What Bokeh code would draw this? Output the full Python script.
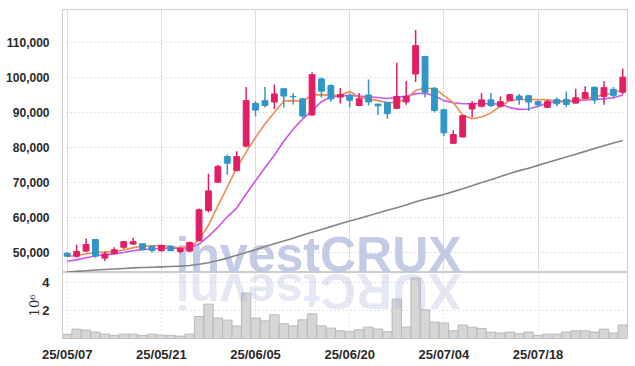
import numpy as np
from bokeh.plotting import figure
from bokeh.models import ColumnDataSource, FixedTicker, Label, Range1d, Grid, NumeralTickFormatter
from bokeh.layouts import column
from bokeh.embed import file_html
from bokeh.resources import INLINE

# ---------------- data ----------------
dates = ["25/05/07", "25/05/08", "25/05/09", "25/05/12", "25/05/13", "25/05/14", "25/05/15", "25/05/16",
         "25/05/19", "25/05/20", "25/05/21", "25/05/22", "25/05/23", "25/05/26", "25/05/27", "25/05/28",
         "25/05/29", "25/05/30", "25/06/02", "25/06/04", "25/06/05", "25/06/09", "25/06/10", "25/06/11",
         "25/06/12", "25/06/13", "25/06/16", "25/06/17", "25/06/18", "25/06/19", "25/06/20", "25/06/23",
         "25/06/24", "25/06/25", "25/06/26", "25/06/27", "25/06/30", "25/07/01", "25/07/02", "25/07/03",
         "25/07/04", "25/07/07", "25/07/08", "25/07/09", "25/07/10", "25/07/11", "25/07/14", "25/07/15",
         "25/07/16", "25/07/17", "25/07/18", "25/07/21", "25/07/22", "25/07/23", "25/07/24", "25/07/25",
         "25/07/28", "25/07/29", "25/07/30", "25/07/31"]

opens = [49800, 48950, 50400, 53700, 48400, 49700, 51500, 52400, 52500, 51800,
         50500, 51800, 50300, 50400, 53400, 62000, 70100, 77400, 73400, 80400,
         92600, 93400, 93000, 96800, 94600, 93900, 89300, 99600, 97700, 94400,
         94800, 92000, 95000, 92400, 92900, 91200, 93000, 101000, 106000, 96900,
         90800, 81200, 83000, 91000, 91800, 93600, 91800, 93400, 94700, 94800,
         93100, 91500, 93700, 93700, 92700, 94100, 97200, 94600, 96600, 95800]
highs = [50000, 52200, 54000, 53800, 50300, 51500, 53200, 54200, 52600, 51900,
         52200, 52000, 51400, 53100, 62600, 72500, 75000, 78000, 78900, 97300,
         93200, 97300, 98000, 96800, 95500, 94200, 101500, 100000, 98100, 97000,
         95500, 95600, 99400, 92500, 93100, 104200, 99000, 113600, 106200, 97300,
         91100, 84900, 89300, 93300, 95600, 95600, 94600, 95200, 95300, 95000,
         93500, 93600, 94300, 96000, 96800, 97500, 97400, 98900, 97300, 102500]
lows = [48700, 48500, 50300, 48500, 47600, 49500, 51000, 52300, 50500, 50000,
        50300, 50400, 49800, 50000, 53200, 61500, 70000, 72200, 73200, 80000,
        88900, 91400, 91000, 91400, 92300, 88500, 89000, 94300, 93100, 92600,
        91500, 91800, 92000, 89300, 88200, 91000, 92200, 98700, 94300, 90000,
        83200, 81100, 82900, 88600, 91400, 91500, 91400, 93300, 92200, 90400,
        91500, 91300, 91800, 91500, 92500, 93900, 92500, 92200, 94000, 95200]
closes = [48950, 50300, 52300, 49000, 49600, 50800, 53100, 53100, 50800, 50600,
          52000, 50500, 51200, 52900, 62200, 67600, 74600, 75500, 77400, 93400,
          90700, 92000, 95300, 94700, 94500, 89000, 100800, 96100, 93900, 95100,
          93500, 93900, 93000, 91900, 89700, 94600, 94600, 109100, 95800, 90600,
          84200, 83700, 89100, 92600, 93600, 92000, 93100, 95100, 93700, 93000,
          92200, 93100, 92500, 92300, 94200, 95700, 93600, 97100, 94900, 100100]
volumes = [0.30e6, 0.67e6, 0.60e6, 0.46e6, 0.31e6, 0.22e6, 0.31e6, 0.31e6, 0.22e6, 0.31e6,
           0.24e6, 0.22e6, 0.17e6, 0.31e6, 1.57e6, 2.45e6, 1.46e6, 1.31e6, 0.89e6, 3.24e6,
           1.46e6, 1.26e6, 1.69e6, 1.05e6, 0.90e6, 1.33e6, 1.76e6, 0.90e6, 0.74e6, 0.55e6,
           0.48e6, 0.62e6, 0.81e6, 0.67e6, 0.48e6, 2.81e6, 0.81e6, 4.31e6, 2.05e6, 1.17e6,
           1.10e6, 0.55e6, 0.96e6, 0.81e6, 0.72e6, 0.46e6, 0.39e6, 0.46e6, 0.34e6, 0.46e6,
           0.22e6, 0.31e6, 0.31e6, 0.46e6, 0.55e6, 0.55e6, 0.46e6, 0.67e6, 0.39e6, 0.96e6]
ma_short = [48900, 49150, 49600, 50000, 50100, 50300, 50700, 51400, 51800, 51900,
            52000, 51700, 51300, 51500, 53600, 57800, 63300, 68700, 74200, 78700,
            82900, 86700, 90100, 93300, 93400, 93200, 95000, 95100, 94900, 95000,
            96000, 94400, 93900, 93400, 92800, 92900, 93800, 96300, 97000, 96800,
            94900, 92800, 89300, 88200, 88700, 89900, 91800, 93400, 93700, 93700,
            93700, 93600, 93300, 93300, 93500, 93900, 94500, 95000, 95600, 96600]
ma_mid = [47500, 47900, 48500, 49000, 49400, 49600, 50000, 50500, 50900, 51000,
          51200, 51300, 51200, 51400, 52400, 54600, 57200, 60200, 62700, 66700,
          70500, 74200, 77800, 81800, 85300, 88100, 90500, 93100, 94400, 94700,
          94900, 94700, 94500, 94300, 94000, 94400, 94600, 95400, 95500, 94800,
          93400, 92800, 92500, 92500, 92500, 92500, 92400, 91400, 90900, 91000,
          91800, 92700, 93100, 93100, 93300, 93600, 93700, 93900, 94200, 95000]
ma_long = [44400, 44600, 44800, 45000, 45150, 45300, 45450, 45600, 45700, 45800,
           45900, 46000, 46100, 46300, 46650, 47100, 47700, 48400, 49200, 50000,
           50800, 51700, 52500, 53300, 54100, 55000, 55800, 56600, 57400, 58200,
           59000, 59700, 60500, 61300, 62100, 62800, 63600, 64500, 65200, 65900,
           66600, 67400, 68200, 69100, 70000, 70800, 71700, 72600, 73400, 74100,
           74900, 75700, 76500, 77300, 78100, 78900, 79700, 80500, 81300, 82000]
price_ticks = [50000, 60000, 70000, 80000, 90000, 100000, 110000]
volume_ticks = [2000000, 4000000]
volume_tick_labels = ["2", "4"]
date_tick_idx = [0, 10, 20, 30, 40, 50]

# ---------------- layout constants ----------------
PRICE_LO, PRICE_HI = 44290, 119430
VOL_HI = 4.71e6
MAIN_PX, VOL_PX = 263, 66
WM_SIZE = 50
WM_DESC = 10

UP = "#e21f66"
DOWN = "#3096c8"
GRID = "#c2c6da"
FONT = "Liberation Sans"

idx = list(range(len(dates)))
colors = [UP if c >= o else DOWN for o, c in zip(opens, closes)]
src = ColumnDataSource(dict(
    x=idx, open=opens, high=highs, low=lows, close=closes,
    top=list(np.maximum(opens, closes)), bottom=list(np.minimum(opens, closes)),
    color=colors, vol=volumes, ma_s=ma_short, ma_m=ma_mid, ma_l=ma_long))

xr = Range1d(-0.5, len(dates) - 0.5)
price_per_px = (PRICE_HI - PRICE_LO) / MAIN_PX
vol_per_px = VOL_HI / VOL_PX


def style_left_axis(ax):
    ax.axis_line_color = "#cccccc"
    ax.major_tick_line_color = None
    ax.minor_tick_line_color = None
    ax.major_label_standoff = 7
    ax.major_label_text_font = FONT
    ax.major_label_text_font_style = "bold"
    ax.major_label_text_color = "#2a2a2a"


# ---------------- price pane ----------------
p = figure(width=635, height=9 + MAIN_PX, x_range=xr, y_range=Range1d(PRICE_LO, PRICE_HI),
           output_backend="svg", toolbar_location=None, x_axis_location=None,
           min_border_left=62, min_border_right=8, min_border_top=9, min_border_bottom=0)
p.outline_line_color = "#cccccc"
p.yaxis.ticker = FixedTicker(ticks=price_ticks)
p.yaxis.formatter = NumeralTickFormatter(format="0,0")
style_left_axis(p.yaxis[0])
p.yaxis.major_label_text_font_size = "12px"
p.ygrid.grid_line_color = GRID
p.ygrid.grid_line_dash = "1 3"
p.add_layout(Grid(dimension=0, ticker=FixedTicker(ticks=date_tick_idx),
                  grid_line_color=GRID, grid_line_dash="1 3"))

p.add_layout(Label(x=11.5, y=PRICE_LO - WM_DESC * price_per_px, text="investCRUX", text_font=FONT,
                   text_font_style="bold", text_font_size=f"{WM_SIZE}px",
                   text_color="#bdc5e2", text_alpha=0.9,
                   text_baseline="bottom", text_align="left", level="underlay"))

p.line("x", "ma_l", source=src, line_color="#858585", line_width=1.6)
p.line("x", "ma_m", source=src, line_color="#cc55ee", line_width=1.6)
p.line("x", "ma_s", source=src, line_color="#f08a50", line_width=1.6)
p.segment("x", "low", "x", "high", source=src, line_color="color", line_width=1.5)
p.vbar(x="x", width=0.62, top="top", bottom="bottom", source=src,
       fill_color="color", line_color="color")

# ---------------- volume pane ----------------
v = figure(width=635, height=VOL_PX + 28, x_range=xr, y_range=Range1d(0, VOL_HI),
           output_backend="svg", toolbar_location=None,
           min_border_left=62, min_border_right=8, min_border_top=0, min_border_bottom=28)
v.outline_line_color = "#cccccc"
v.vbar(x="x", width=1.0, top="vol", bottom=0, source=src,
       fill_color="#d6d6d6", line_color="#b9b9b9", line_width=1)

v.add_layout(Label(x=11.5, y=VOL_HI + WM_DESC * vol_per_px, text="XURCtsevni", angle=np.pi,
                   text_font=FONT, text_font_style="bold", text_font_size=f"{WM_SIZE}px",
                   text_color="#aab4d8", text_alpha=0.3,
                   text_baseline="bottom", text_align="right", level="overlay"))

v.yaxis.ticker = FixedTicker(ticks=volume_ticks)
v.yaxis.major_label_overrides = dict(zip(volume_ticks, volume_tick_labels))
style_left_axis(v.yaxis[0])
v.yaxis.major_label_text_font_size = "13px"
v.yaxis.axis_label = "10⁶"
v.yaxis.axis_label_text_font = "DejaVu Serif"
v.yaxis.axis_label_text_font_style = "normal"
v.yaxis.axis_label_text_font_size = "13px"
v.yaxis.axis_label_text_color = "#333333"
v.yaxis.axis_label_standoff = -3
v.xaxis.ticker = FixedTicker(ticks=date_tick_idx)
v.xaxis.major_label_overrides = {i: dates[i] for i in date_tick_idx}
v.xaxis.axis_line_color = None
v.xaxis.major_tick_line_color = None
v.xaxis.minor_tick_line_color = None
v.xaxis.major_label_standoff = 2
v.xaxis.major_label_text_font = FONT
v.xaxis.major_label_text_font_size = "13px"
v.xaxis.major_label_text_font_style = "bold"
v.xaxis.major_label_text_color = "#2a2a2a"
v.xgrid.ticker = FixedTicker(ticks=date_tick_idx)
v.xgrid.grid_line_color = GRID
v.xgrid.grid_line_dash = "1 3"
v.ygrid.grid_line_color = GRID
v.ygrid.grid_line_dash = "1 3"

layout = column(p, v, spacing=0)
open("out.html", "w").write(file_html(layout, INLINE))
